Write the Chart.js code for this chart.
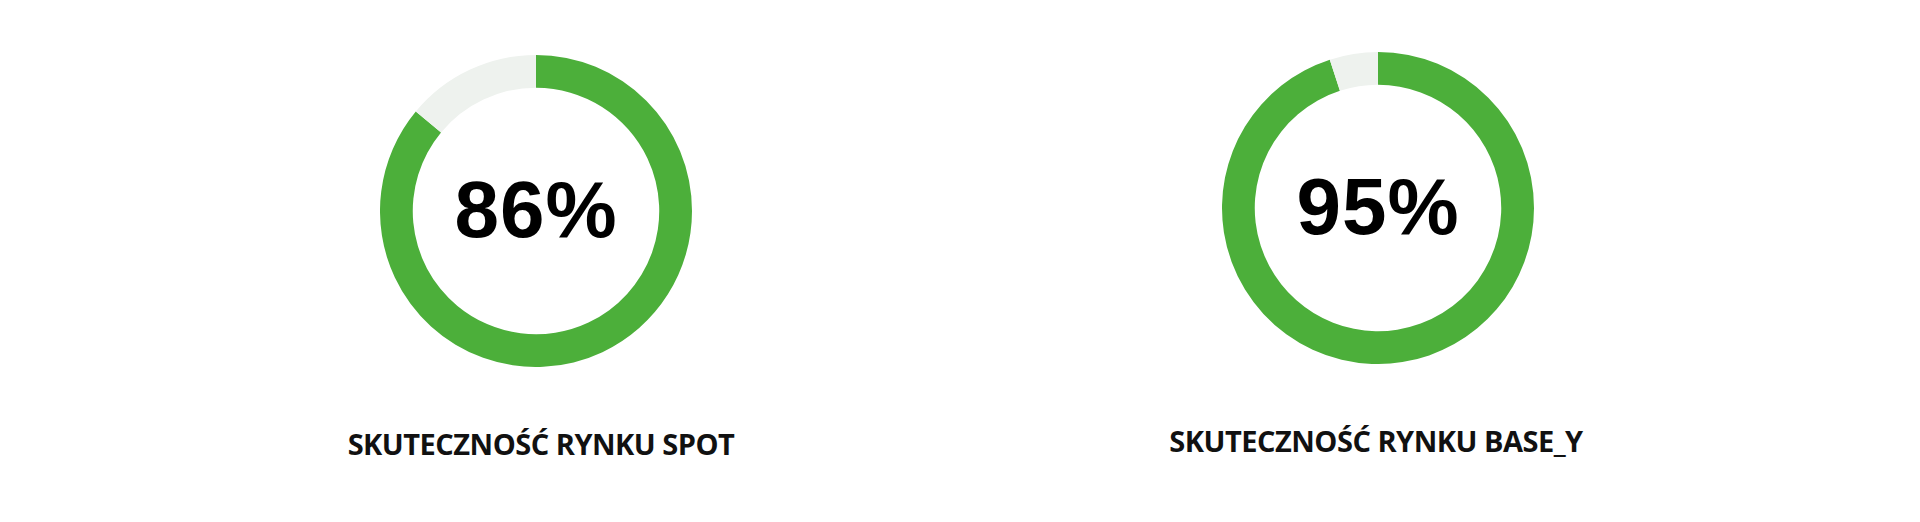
<!DOCTYPE html>
<html>
<head>
<meta charset="utf-8">
<script src="https://cdn.jsdelivr.net/npm/chart.js@4"></script>
<style>
  html, body { margin: 0; padding: 0; background: #fff; }
  body { width: 1920px; height: 522px; position: relative; overflow: hidden; }
  .gauge { position: absolute; width: 312px; height: 312px; }
  .label {
    position: absolute; width: 600px; text-align: center;
    font-family: "Open Sans", sans-serif; font-weight: 700; font-size: 29px;
    color: #111; letter-spacing: -0.5px; white-space: nowrap;
  }
</style>
</head>
<body>
<div class="gauge" style="left:380px; top:55px;"><canvas id="g0"></canvas></div>
<div class="gauge" style="left:1222px; top:52px;"><canvas id="g1"></canvas></div>
<div class="label" id="l0" style="left:241px; top:424px;"></div>
<div class="label" id="l1" style="left:1076px; top:421px;"></div>
<script>
// Gauge data
const titles = ['SKUTECZNOŚĆ RYNKU SPOT', 'SKUTECZNOŚĆ RYNKU BASE_Y'];
const scores = [86, 95];
const remainders = [14, 5];

const GREEN = '#4caf3a';
const GREY = '#eef2ee';

// draws the percentage in the middle of the ring
const centerText = {
    id: 'centerText',
    afterDraw(chart) {
        const meta = chart.getDatasetMeta(0);
        if (!meta.data.length) return;
        const arc = meta.data[0];
        const ctx = chart.ctx;
        ctx.save();
        ctx.font = 'bold 80px "Liberation Sans", Arial, sans-serif';
        if ('letterSpacing' in ctx) ctx.letterSpacing = '1px';
        ctx.fillStyle = '#000';
        ctx.textAlign = 'center';
        ctx.textBaseline = 'middle';
        ctx.fillText(chart.data.datasets[0].data[0] + '%', arc.x, arc.y + 4);
        ctx.restore();
    }
};

scores.forEach((score, i) => {
    document.getElementById('l' + i).textContent = titles[i];
    new Chart(document.getElementById('g' + i), {
        type: 'doughnut',
        data: {
            labels: ['score', 'rest'],
            datasets: [{
                data: [score, remainders[i]],
                backgroundColor: [GREEN, GREY],
                borderWidth: 0,
                hoverOffset: 0
            }]
        },
        options: {
            responsive: true,
            maintainAspectRatio: true,
            animation: false,
            cutout: '79%',
            plugins: {
                legend: { display: false },
                tooltip: { enabled: false }
            }
        },
        plugins: [centerText]
    });
});
</script>
</body>
</html>
